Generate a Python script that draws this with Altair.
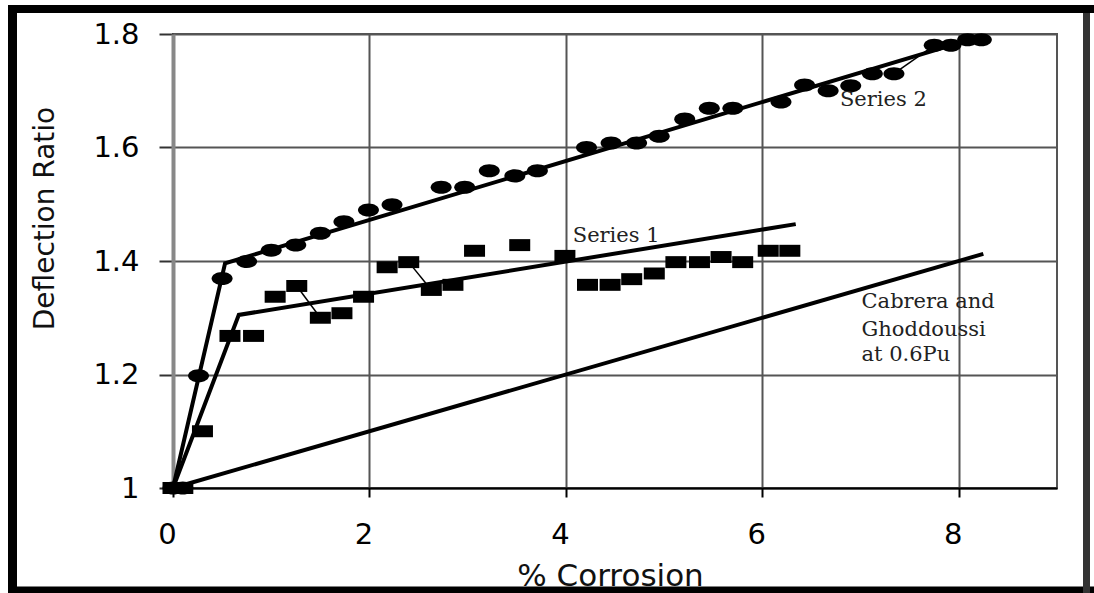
import altair as alt
import pandas as pd

# ---- data ----
s1_x = [0.0, 0.1, 0.3, 0.58, 0.82, 1.04, 1.26, 1.5, 1.72, 1.94, 2.18, 2.4, 2.63, 2.85, 3.07,
        3.53, 3.99, 4.22, 4.45, 4.67, 4.9, 5.12, 5.36, 5.58, 5.8, 6.06, 6.28]
s1_y = [1.0, 1.0, 1.1, 1.268, 1.268, 1.337, 1.356, 1.30, 1.308, 1.337, 1.389, 1.398, 1.349, 1.358, 1.418,
        1.428, 1.409, 1.358, 1.358, 1.368, 1.378, 1.398, 1.398, 1.407, 1.398, 1.418, 1.418]
# thin connector pieces visible in the reference (same id = joined)
s1_link = [0, 1, 2, 3, 4, 5, 6, 6, 8, 9, 10, 11, 11, 13, 14,
           15, 16, 17, 18, 19, 20, 21, 22, 23, 24, 25, 26]

s2_x = [0.0, 0.1, 0.26, 0.5, 0.75, 1.0, 1.25, 1.5, 1.74, 1.99, 2.23, 2.73, 2.97, 3.22, 3.48, 3.71,
        4.21, 4.46, 4.72, 4.95, 5.21, 5.46, 5.70, 6.19, 6.43, 6.67, 6.90, 7.12, 7.34, 7.75, 7.92, 8.09, 8.23]
s2_y = [1.0, 1.0, 1.198, 1.369, 1.399, 1.419, 1.428, 1.449, 1.469, 1.49, 1.499, 1.53, 1.53, 1.559, 1.55, 1.559,
        1.60, 1.608, 1.608, 1.62, 1.65, 1.669, 1.669, 1.68, 1.71, 1.70, 1.709, 1.73, 1.73, 1.78, 1.78, 1.79, 1.79]
s2_link = [0, 1, 2, 3, 4, 5, 6, 7, 8, 9, 10, 11, 12, 13, 14, 15,
           16, 17, 18, 19, 20, 21, 22, 23, 24, 25, 26, 27, 28, 28, 30, 31, 32]

fit1_x = [0.0, 0.67, 6.34]
fit1_y = [1.0, 1.305, 1.465]
fit2_x = [0.0, 0.53, 8.21]
fit2_y = [1.0, 1.396, 1.795]
cab_x = [0.0, 8.25]
cab_y = [1.0, 1.4125]

x_ticks = [0, 2, 4, 6, 8]
y_ticks = [1.0, 1.2, 1.4, 1.6, 1.8]

label_text = ["Series 2", "Series 1", "Cabrera and", "Ghoddoussi", "at 0.6Pu"]
label_x = [6.79, 4.07, 7.01, 7.01, 7.01]
label_y = [1.684, 1.444, 1.328, 1.278, 1.234]

# ---- tables ----
s1 = pd.DataFrame({"x": s1_x, "y": s1_y, "link": s1_link})
s2 = pd.DataFrame({"x": s2_x, "y": s2_y, "link": s2_link})
fit1 = pd.DataFrame({"x": fit1_x, "y": fit1_y})
fit2 = pd.DataFrame({"x": fit2_x, "y": fit2_y})
cab = pd.DataFrame({"x": cab_x, "y": cab_y})
labels = pd.DataFrame({"x": label_x, "y": label_y, "t": label_text})

xs = alt.Scale(domain=[0, 9], nice=False, zero=False)
ys = alt.Scale(domain=[1, 1.8], nice=False, zero=False)

xaxis = alt.Axis(
    values=x_ticks, format="d", title="% Corrosion",
    grid=True, gridColor="#555", gridWidth=2,
    domainColor="#000", domainWidth=2,
    tickColor="#000", tickWidth=2, tickSize=9,
    labelFont="DejaVu Sans", labelFontSize=29, labelColor="#000",
    labelPadding=23, labelOffset=-6, labelFlush=False,
    titleFont="DejaVu Sans", titleFontSize=31, titleFontWeight="normal", titleColor="#111",
    titleBaseline="alphabetic", titleY=97, titleX=437,
)
yaxis = alt.Axis(
    values=y_ticks, format=".1~f", title="Deflection Ratio",
    grid=True, gridColor="#555", gridWidth=2,
    domainColor="#888", domainWidth=4,
    tickColor="#333", tickWidth=2, tickSize=14,
    labelFont="DejaVu Sans", labelFontSize=29, labelColor="#000",
    labelPadding=20, labelFlush=False,
    titleFont="DejaVu Sans", titleFontSize=28, titleFontWeight="normal", titleColor="#111",
    titleBaseline="alphabetic", titleAlign="center", titleAngle=270, titleX=-120, titleY=184,
)


def enc(**kw):
    return dict(x=alt.X("x:Q", scale=xs, axis=xaxis),
                y=alt.Y("y:Q", scale=ys, axis=yaxis), **kw)


ellipse = "M-1,0A1,0.62,0,1,1,1,0A1,0.62,0,1,1,-1,0Z"
rect = "M-1,-0.57L1,-0.57L1,0.57L-1,0.57Z"

cab_line = alt.Chart(cab).mark_line(color="#000", strokeWidth=4).encode(**enc())
fit1_line = alt.Chart(fit1).mark_line(color="#000", strokeWidth=4).encode(**enc())
fit2_line = alt.Chart(fit2).mark_line(color="#000", strokeWidth=4).encode(**enc())

s1_conn = alt.Chart(s1).mark_line(color="#000", strokeWidth=1.5).encode(
    **enc(detail="link:N", order="x:Q"))
s2_conn = alt.Chart(s2).mark_line(color="#000", strokeWidth=1.5).encode(
    **enc(detail="link:N", order="x:Q"))

s1_pts = alt.Chart(s1).mark_point(shape=rect, size=441, filled=True, color="#000",
                                  opacity=1, strokeWidth=0).encode(**enc())
s2_pts = alt.Chart(s2).mark_point(shape=ellipse, size=441, filled=True, color="#000",
                                  opacity=1, strokeWidth=0).encode(**enc())

txt = alt.Chart(labels).mark_text(font="DejaVu Serif", fontSize=21, color="#222",
                                  align="left", baseline="middle").encode(**enc(text="t:N"))

# ---- outer picture frame (decoration) ----
one = pd.DataFrame({"a": [0]})
frame_top = alt.Chart(one).mark_rule(color="#000", strokeWidth=8).encode(
    x=alt.value(-165), x2=alt.value(921), y=alt.value(-25))
frame_bottom = alt.Chart(one).mark_rule(color="#000", strokeWidth=7).encode(
    x=alt.value(-165), x2=alt.value(921), y=alt.value(556))
frame_left = alt.Chart(one).mark_rule(color="#000", strokeWidth=9).encode(
    x=alt.value(-160.5), y=alt.value(-29), y2=alt.value(559))
frame_right = alt.Chart(one).mark_rule(color="#333", strokeWidth=7).encode(
    x=alt.value(913.5), y=alt.value(-21), y2=alt.value(559))

chart = alt.layer(
    cab_line, fit1_line, fit2_line, s1_conn, s2_conn, s1_pts, s2_pts, txt,
    frame_top, frame_bottom, frame_left, frame_right,
).properties(
    width=884, height=454,
    autosize=alt.AutoSizeParams(type="none"),
    padding={"left": 173, "top": 34, "right": 37, "bottom": 105},
    background="white",
).configure_view(stroke="#555", strokeWidth=2)

chart.save("out.html", embed_options={"renderer": "svg", "actions": False})
